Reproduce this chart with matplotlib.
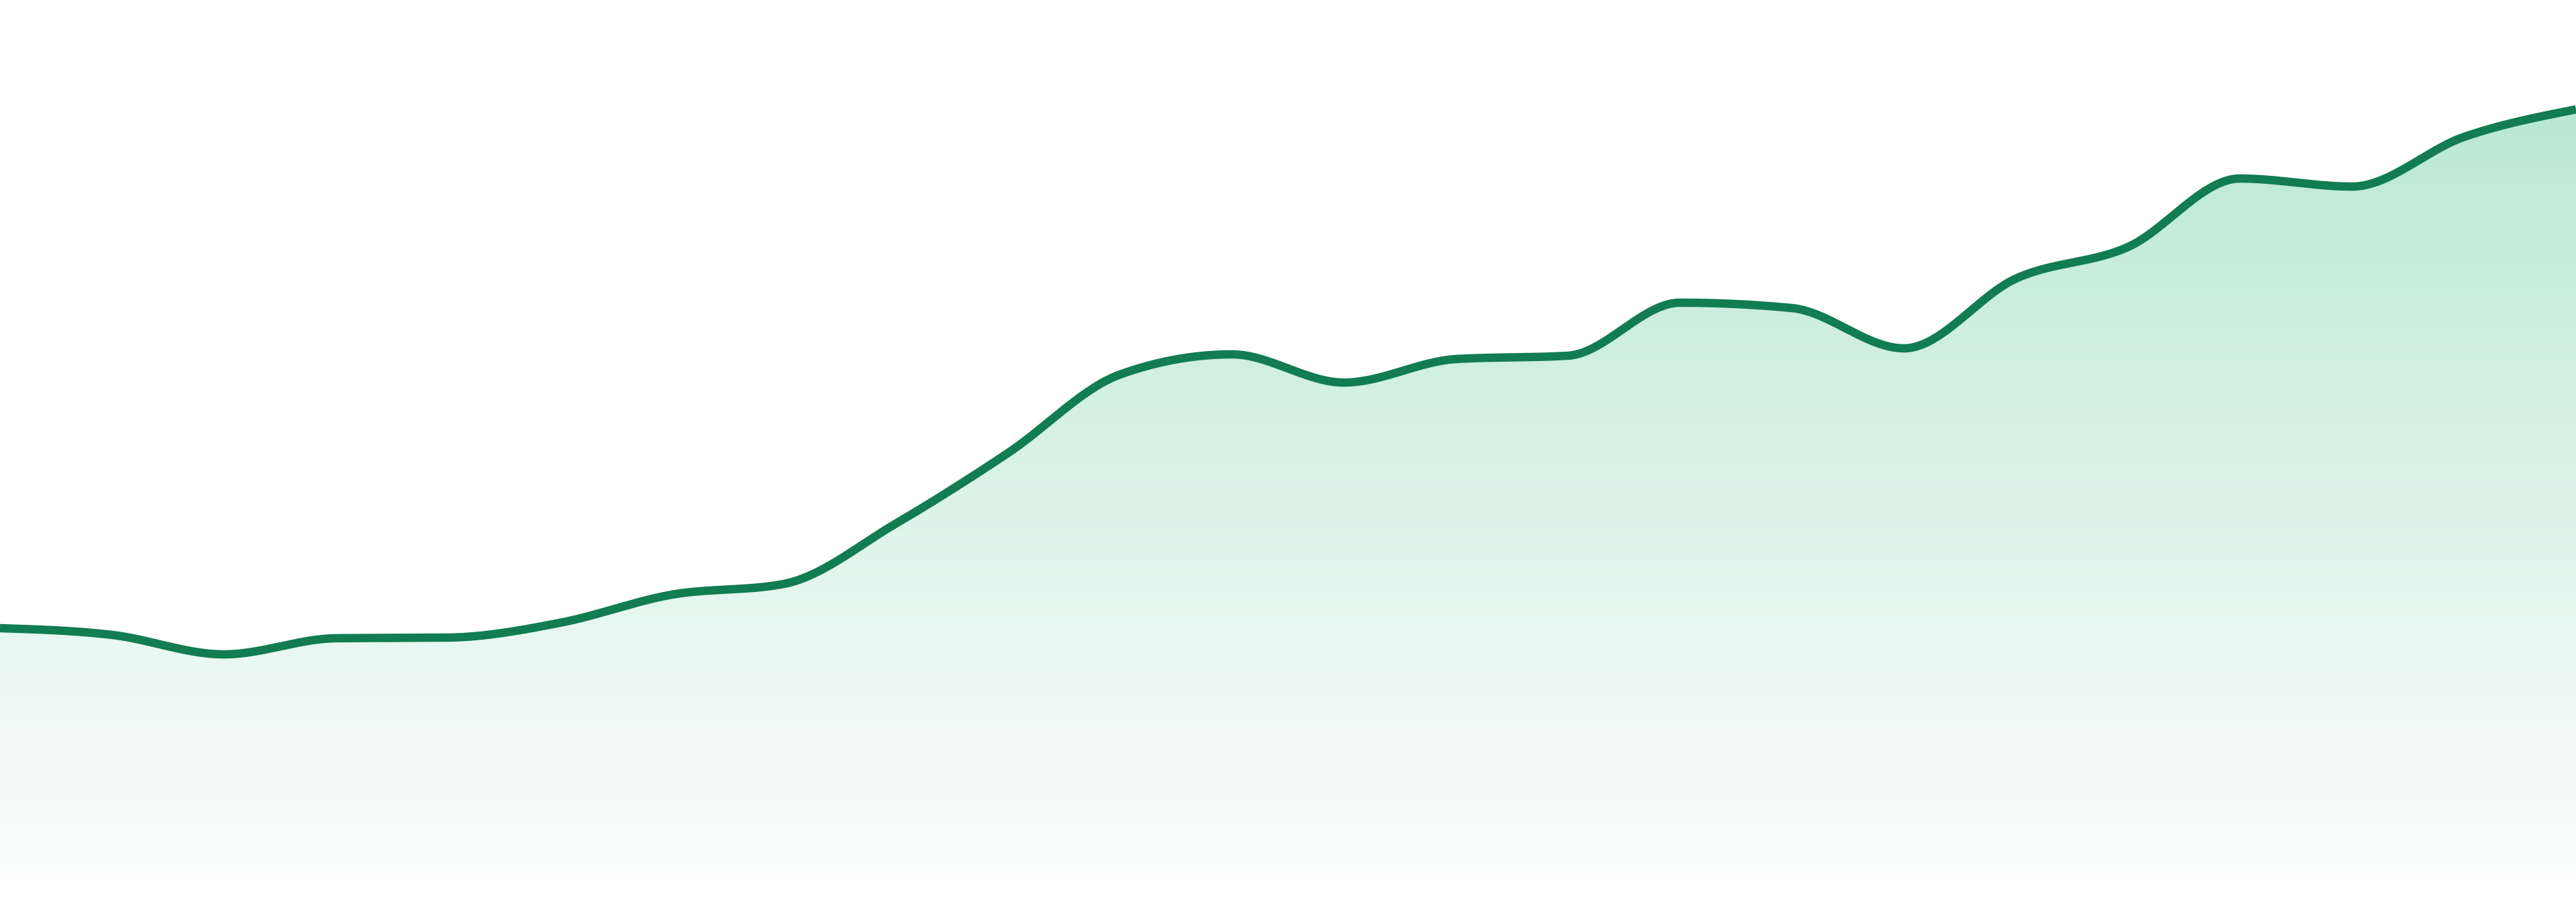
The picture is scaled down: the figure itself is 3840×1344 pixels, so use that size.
import numpy as np
import matplotlib
matplotlib.use('Agg')
import matplotlib.pyplot as plt

# values (24 evenly spaced points)
idx = list(range(24))
values = [36.9, 35.9, 33.0, 35.4, 35.5, 37.7, 41.9, 43.5, 52.5, 63.0, 74.7, 77.7,
          73.5, 77.0, 77.5, 85.4, 84.6, 78.6, 89.0, 93.7, 103.9, 102.7, 110.1, 114.2]

y_max = 130.5
line_color = '#127c52'
fill_top = np.array([186, 232, 213]) / 255
fill_bottom = np.array([253, 254, 254]) / 255


def monotone_x(x, y, n=60):
    # same idea as d3.curveMonotoneX
    x = np.asarray(x, float)
    y = np.asarray(y, float)
    h = np.diff(x)
    s = np.diff(y) / h
    t = np.zeros(len(x))
    for i in range(1, len(x) - 1):
        p = (s[i - 1] * h[i] + s[i] * h[i - 1]) / (h[i - 1] + h[i])
        t[i] = (np.sign(s[i - 1]) + np.sign(s[i])) * min(abs(s[i - 1]), abs(s[i]), 0.5 * abs(p))
    t[0] = (3 * s[0] - t[1]) / 2
    t[-1] = (3 * s[-1] - t[-2]) / 2
    xs, ys = [], []
    for i in range(len(x) - 1):
        u = np.linspace(0, 1, n, endpoint=(i == len(x) - 2))
        h00 = 2 * u**3 - 3 * u**2 + 1
        h10 = u**3 - 2 * u**2 + u
        h01 = -2 * u**3 + 3 * u**2
        h11 = u**3 - u**2
        xs.append(x[i] + u * h[i])
        ys.append(h00 * y[i] + h10 * h[i] * t[i] + h01 * y[i + 1] + h11 * h[i] * t[i + 1])
    return np.concatenate(xs), np.concatenate(ys)


xs, ys = monotone_x(idx, values)

fig = plt.figure(figsize=(38.4, 13.44), dpi=100)
ax = fig.add_axes([0, 39 / 1344, 1, 1305 / 1344])
ax.set_xlim(idx[0], idx[-1])
ax.set_ylim(0, y_max)
ax.axis('off')

# gradient fill under the line
poly = ax.fill_between(xs, ys, 0, facecolor='none', edgecolor='none')
rows = 1305
f = np.clip((np.arange(rows) - 163) / (1305 - 163), 0, 1)[:, None]
grad = fill_top * (1 - f) + fill_bottom * f
grad = np.repeat(grad[:, None, :], 2, axis=1)
img = ax.imshow(grad, extent=[idx[0], idx[-1], 0, y_max], aspect='auto',
                origin='upper', interpolation='bilinear', zorder=1)
img.set_clip_path(poly.get_paths()[0], transform=ax.transData)

ax.plot(xs, ys, color=line_color, lw=9, solid_capstyle='butt', zorder=2)

fig.savefig('out.png', dpi=100, facecolor='white')
